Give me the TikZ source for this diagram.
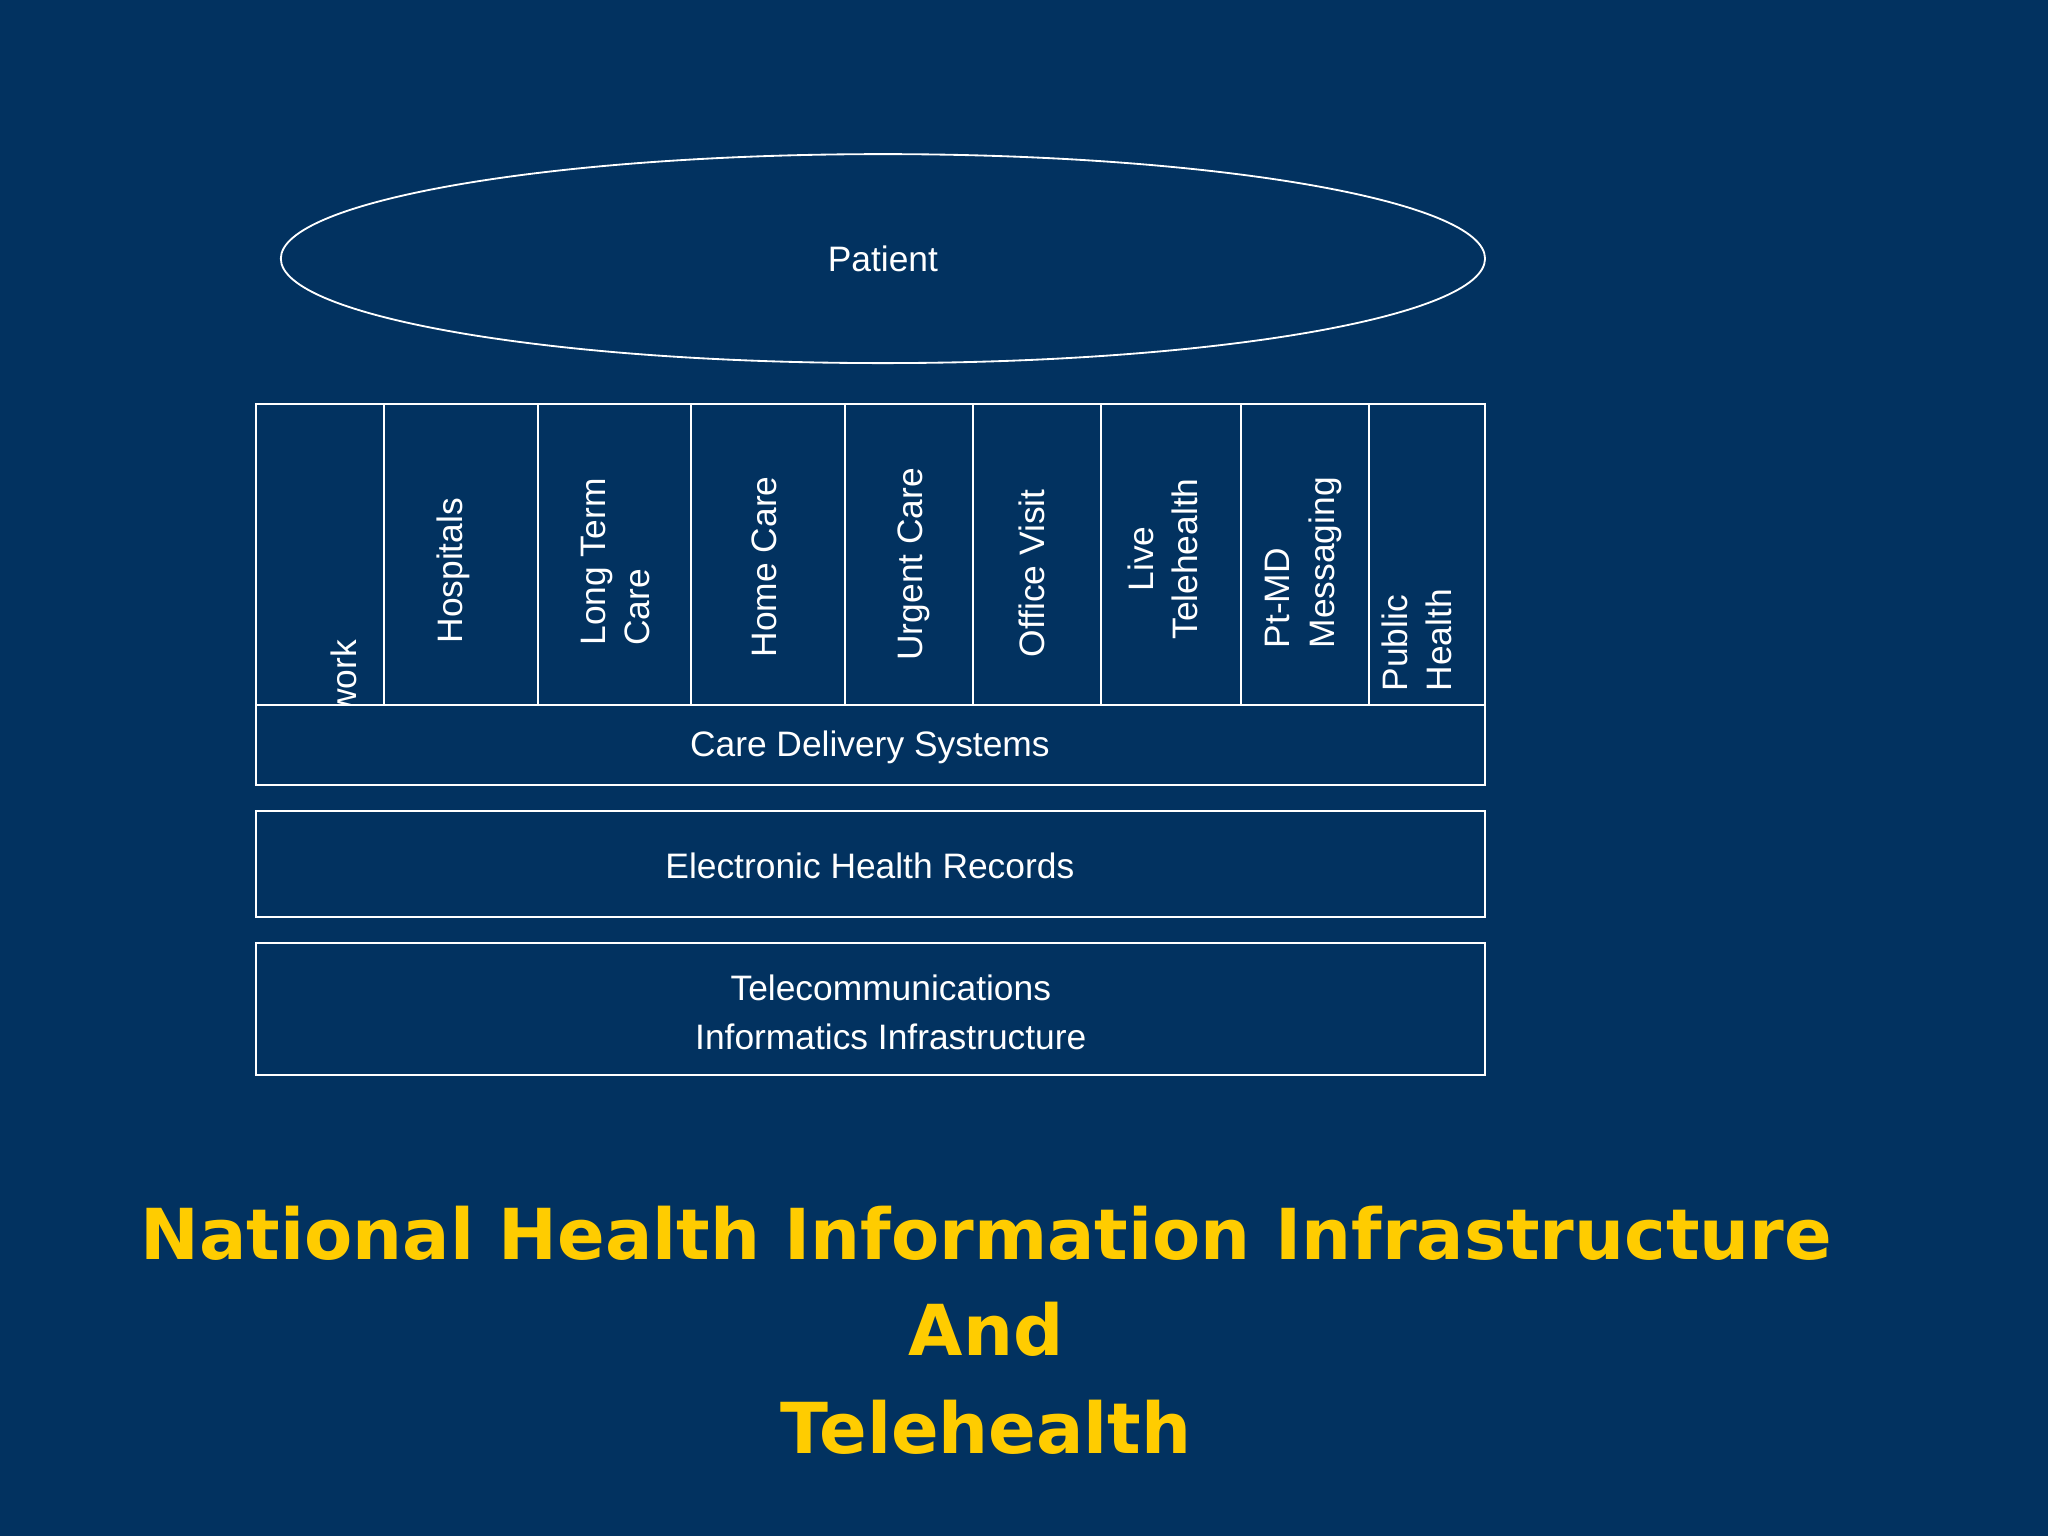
\documentclass[tikz,border=0pt]{standalone}
\usepackage{fontspec}
\setmainfont{Liberation Sans}
\newfontfamily\titlefont{DejaVu Sans}
\definecolor{bg}{RGB}{2,50,96}
\definecolor{gold}{RGB}{255,204,0}
\begin{document}
\begin{tikzpicture}[x=0.01cm,y=-0.01cm,
  box/.style={draw=white,line width=0.4pt},
  lbl/.style={text=white,font=\fontsize{7.7pt}{9.6pt}\selectfont,inner sep=0pt},
  vlbl/.style={lbl,rotate=90},
  ttl/.style={text=gold,font=\titlefont\bfseries\fontsize{15.3pt}{18pt}\selectfont,inner sep=0pt}]
\fill[bg] (0,0) rectangle (1568,1176);
\useasboundingbox (0,0) rectangle (1568,1176);
\draw[box] (676,198) ellipse [x radius=461,y radius=80];
\node[lbl] (patient) at (676,198) {Patient};
% columns
\draw[box] (196,309) rectangle (1137,540);
\foreach \x in {294,412,529,647,745,843,950,1048} \draw[box] (\x,309) -- (\x,540);
\begin{scope}
\clip (196,309) rectangle (294,540);
\node[vlbl,anchor=west] (net) at (263,590) {Network};
\end{scope}
\node[vlbl] (hosp) at (347,437) {Hospitals};
\node[vlbl,anchor=west,align=left] (ltc) at (471,495) {Long Term\\Care};
\node[vlbl] (home) at (585,434) {Home Care};
\node[vlbl] (urg) at (700,432) {Urgent Care};
\node[vlbl] (off) at (790,439) {Office Visit};
\node[vlbl,align=center] (live) at (890,428) {Live\\Telehealth};
\node[vlbl,anchor=west,align=left] (ptmd) at (998,497) {Pt-MD\\Messaging};
\node[vlbl,anchor=west,align=left] (pub) at (1085,530) {Public\\Health};
\draw[box] (196,540) rectangle (1137,601);
\node[lbl] (cds) at (666,572) {Care Delivery Systems};
\draw[box] (196,621) rectangle (1137,702);
\node[lbl] (ehr) at (666,663) {Electronic Health Records};
\draw[box] (196,722) rectangle (1137,823);
\node[lbl,align=center,font=\fontsize{7.7pt}{10.8pt}\selectfont] (tel) at (682,775) {Telecommunications\\Informatics Infrastructure};
\node[ttl] (t1) at (755,944) {National Health Information Infrastructure};
\node[ttl] (t2) at (755,1018) {And};
\node[ttl] (t3) at (755,1093) {Telehealth};
\end{tikzpicture}
\end{document}
